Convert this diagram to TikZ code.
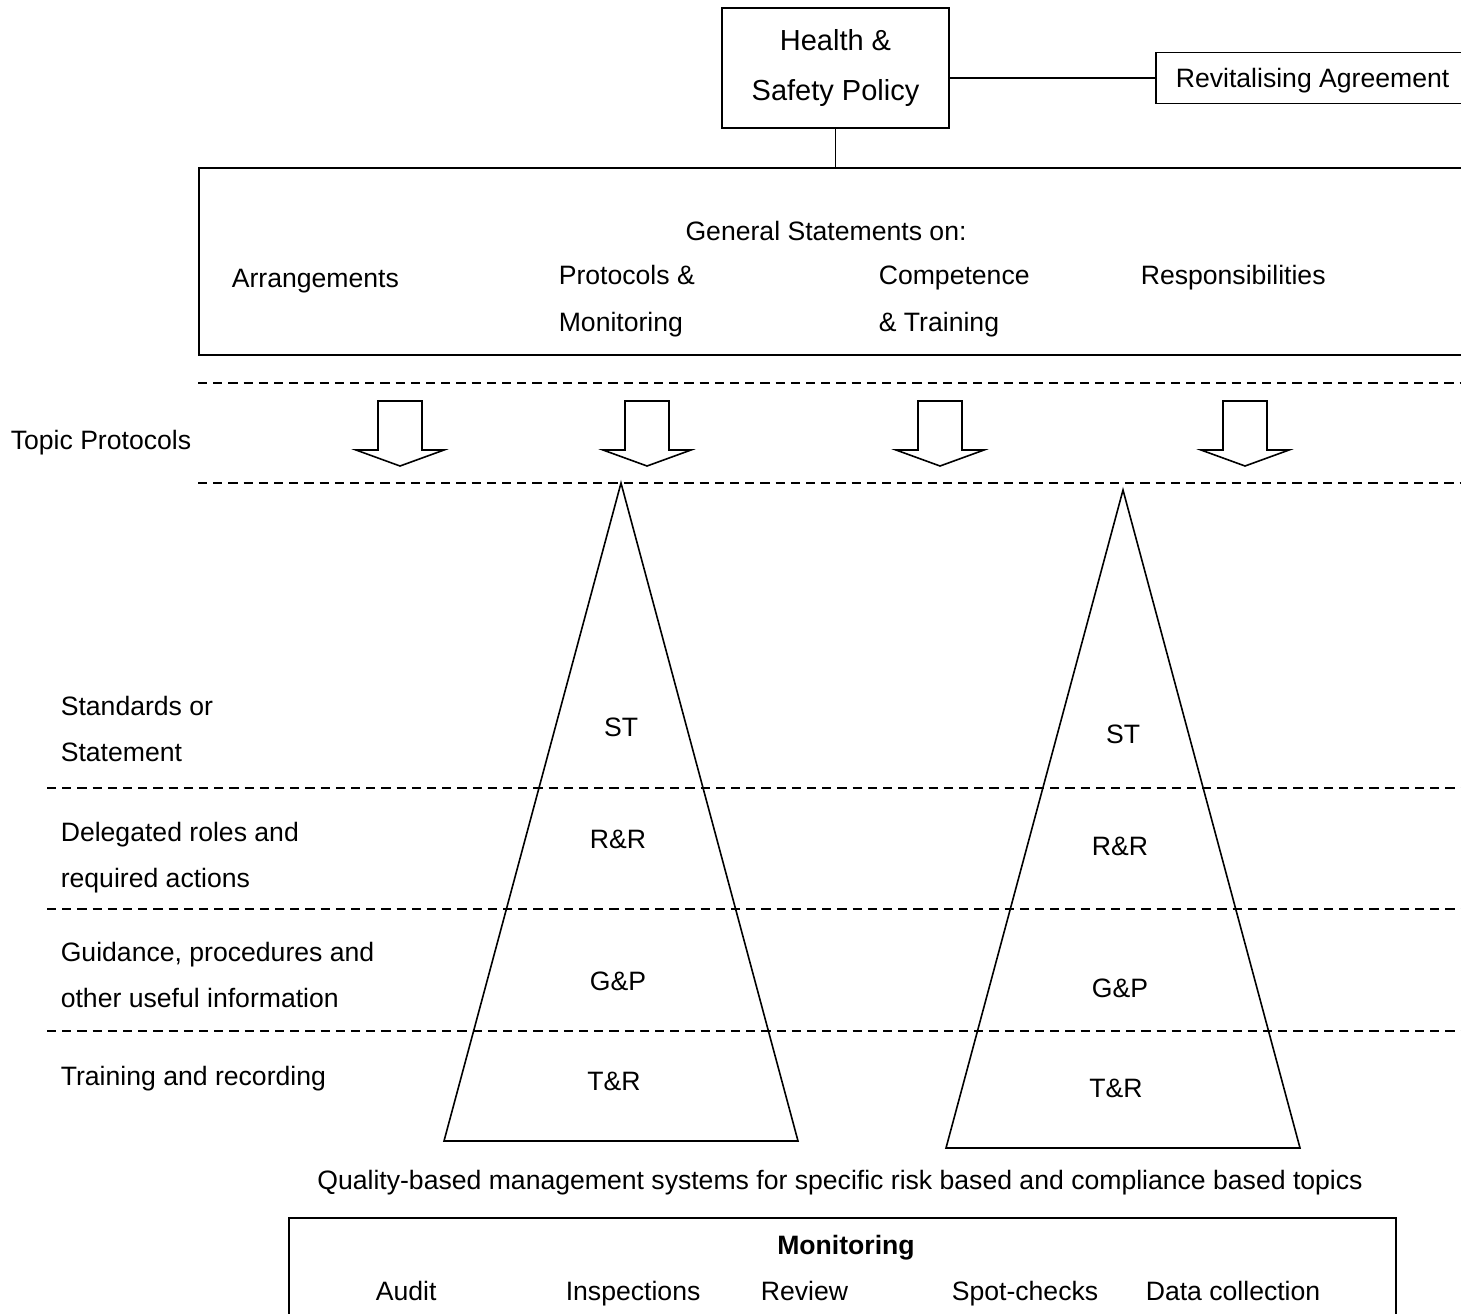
\documentclass[tikz,border=0pt]{standalone}
\usepackage{fontspec}
\setmainfont{Liberation Sans}
\usetikzlibrary{positioning}

\tikzset{
  lbl/.style={inner sep=0, font=\fontsize{13.3}{23}\selectfont},
  sep/.style={dash pattern=on 4.6pt off 3pt},
}

\begin{document}
\begin{tikzpicture}[x=0.5pt, y=-0.5pt, line width=0.8pt]
    \useasboundingbox (0, 0) rectangle (1461, 1313);
    \clip (0, 0) rectangle (1461, 1313);

    % policy and the statements box
    \node [draw, minimum width=113.5pt, minimum height=60pt, align=center, inner sep=0,
      font=\fontsize{14.5}{25}\selectfont] (policy) at (835.5, 68) {Health \&\\Safety Policy};
    \node [draw, anchor=west, minimum height=25.5pt, inner xsep=10pt, text depth=0pt,
      font=\fontsize{13.3}{16}\selectfont] (revital) at (1155, 78) {Revitalising Agreement};
    \node [draw, anchor=north west, minimum width=650pt, minimum height=93.5pt] (general) at (198, 167) {};

    \draw (policy.east |- revital.west) -- (revital.west);
    \draw (policy.south) -- (policy.south |- general.north);

    \node [lbl, anchor=base] (stmts) at (826, 240.5) {General Statements on:};
    \node [lbl, anchor=base west] (arrange) at (231, 287.5) {Arrangements};
    \node [lbl, anchor=west, align=left, font=\fontsize{13.3}{23.5}\selectfont] (protocols) at (558, 301.5) {Protocols \&\\Monitoring};
    \node [lbl, anchor=west, align=left, font=\fontsize{13.3}{23.5}\selectfont] (compet) at (878, 301.5) {Competence\\\& Training};
    \node [lbl, anchor=base west] (respons) at (1140, 284.5) {Responsibilities};

    % topic protocols band
    \draw [sep] (198, 383) -- (1461, 383);
    \draw [sep] (198, 483) -- (1461, 483);
    \node [lbl, anchor=base west] (topic) at (10, 449.5) {Topic Protocols};

    \foreach \x in {400, 647, 940, 1245}
      \draw (\x-22, 401) -- (\x+22, 401) -- (\x+22, 450) -- (\x+44, 450)
        -- (\x, 466) -- (\x-44, 450) -- (\x-22, 450) -- cycle;

    % levels
    \foreach \y in {788, 909, 1031}
      \draw [sep] (47, \y) -- (1461, \y);

    \node [lbl, anchor=west, align=left] (standards) at (60, 729) {Standards or\\Statement};
    \node [lbl, anchor=west, align=left] (delegated) at (60, 858) {Delegated roles and\\required actions};
    \node [lbl, anchor=west, align=left] (guidance) at (60, 975) {Guidance, procedures and\\other useful information};
    \node [lbl, anchor=base west] (training) at (60, 1085.5) {Training and recording};

    \foreach \i/\dx/\dy in {1/0/0, 2/502/7} {
      \begin{scope}[shift={(\dx, \dy)}]
        \draw (621, 483) -- (798, 1141) -- (444, 1141) -- cycle;
        \node [lbl, anchor=base] (st\i) at (621, 736.5) {ST};
        \node [lbl, anchor=base] (rr\i) at (618, 848.5) {R\&R};
        \node [lbl, anchor=base] (gp\i) at (618, 990.5) {G\&P};
        \node [lbl, anchor=base] (tr\i) at (614, 1090.5) {T\&R};
      \end{scope}
    }

    \node [lbl, anchor=base] (quality) at (840, 1189.5) {Quality-based management systems for specific risk based and compliance based topics};

    % monitoring
    \node [draw, anchor=north west, minimum width=553.5pt, minimum height=62pt] (monitor) at (288, 1217) {};
    \node [lbl, anchor=base, font=\fontsize{13.3}{23}\selectfont\bfseries] (monhead) at (846, 1254.5) {Monitoring};
    \node [lbl, anchor=base west] (audit) at (375, 1300.5) {Audit};
    \node [lbl, anchor=base west] (inspect) at (565, 1300.5) {Inspections};
    \node [lbl, anchor=base west] (review) at (760, 1300.5) {Review};
    \node [lbl, anchor=base west] (spot) at (951, 1300.5) {Spot-checks};
    \node [lbl, anchor=base west] (data) at (1145, 1300.5) {Data collection};
  \end{tikzpicture}
\end{document}
